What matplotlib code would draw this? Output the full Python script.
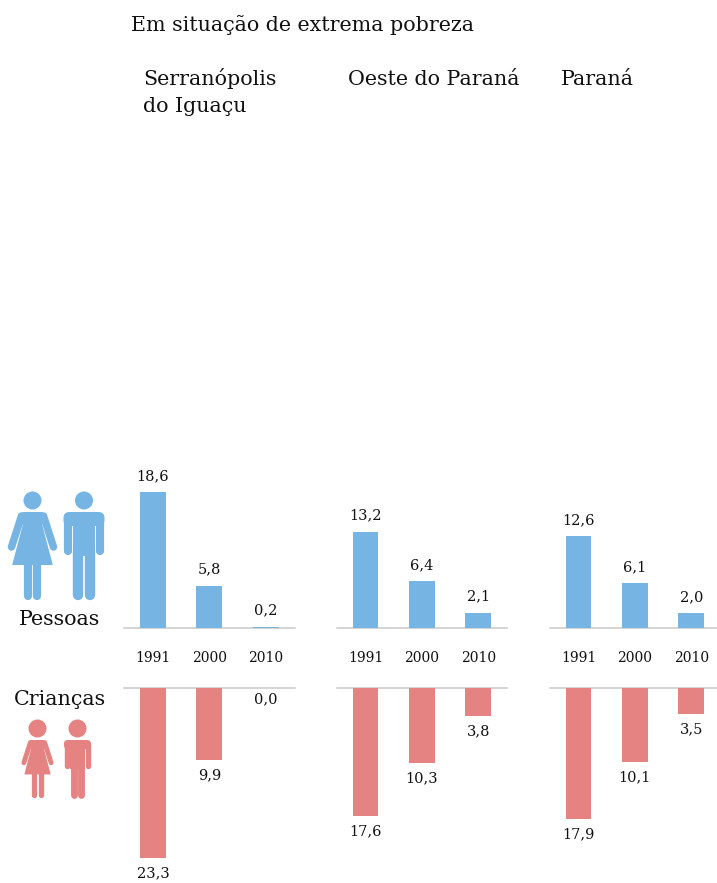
import numpy as np
from matplotlib import pyplot as plt
from matplotlib.patches import Circle, Polygon, FancyBboxPatch

W, H = 717, 883
BLUE = "#76b5e3"
RED = "#e58383"
LINE = "#c9c9c9"
FONT = "DejaVu Serif"

years = ["1991", "2000", "2010"]
regions = [["Serranópolis", "do Iguaçu"], ["Oeste do Paraná"], ["Paraná"]]
pessoas = [[18.6, 5.8, 0.2], [13.2, 6.4, 2.1], [12.6, 6.1, 2.0]]
criancas = [[23.3, 9.9, 0.0], [17.6, 10.3, 3.8], [17.9, 10.1, 3.5]]

col_left = [124, 336.5, 549.5]
region_x = [143, 348, 561]
col_w = 171
px_per_unit = 7.3


def px_axes(fig, left, top, right, bottom):
    return fig.add_axes([left / W, 1 - bottom / H, (right - left) / W, (bottom - top) / H])


def stroke(ax, pts, width, color):
    xs, ys = zip(*pts)
    ax.plot(xs, ys, color=color, lw=width * 0.72, solid_capstyle="round", zorder=3)


def woman(ax, cx, top, k, color):
    # top = top of the shoulders, k = size relative to the adult icon, head stays the same
    ax.add_patch(Circle((cx, top - 11.5), 9, color=color, lw=0))
    ax.add_patch(Polygon([(cx - 14 * k, top + 2 * k), (cx - 9 * k, top), (cx + 9 * k, top), (cx + 14 * k, top + 2 * k),
                          (cx + 9.8 * k, top + 13 * k), (cx + 20.3 * k, top + 53 * k),
                          (cx - 20.3 * k, top + 53 * k), (cx - 9.8 * k, top + 13 * k)],
                         closed=True, color=color, lw=0))
    leg = 8.2 * k
    for sign in (-1, 1):
        stroke(ax, [(cx + sign * 11 * k, top + 4 * k), (cx + sign * 21 * k, top + 35 * k)], 7.5 * k, color)
        x = cx + sign * (0.8 + leg / 2)
        stroke(ax, [(x, top + 50 * k), (x, top + 88 * k - leg / 2)], leg, color)


def man(ax, cx, top, k, color):
    ax.add_patch(Circle((cx, top - 11.5), 9, color=color, lw=0))
    half = 20.5 * k
    arm = 8.2 * k
    ax.add_patch(FancyBboxPatch((cx - half, top), 2 * half, 14 * k,
                                boxstyle=f"round,pad=0,rounding_size={6 * k}", color=color, lw=0))
    body = 11.2 * k
    ax.add_patch(Polygon([(cx - body, top + 8 * k), (cx + body, top + 8 * k),
                          (cx + body, top + 44 * k), (cx - body, top + 44 * k)],
                         closed=True, color=color, lw=0))
    leg = 10.4 * k
    for sign in (-1, 1):
        x = cx + sign * (half - arm / 2)
        stroke(ax, [(x, top + 8 * k), (x, top + 43 * k - arm / 2)], arm, color)
        x = cx + sign * (0.8 * k + leg / 2)
        stroke(ax, [(x, top + 40 * k), (x, top + 88 * k - leg / 2)], leg, color)


fig = plt.figure(figsize=(W / 100, H / 100), dpi=100)

for i in range(3):
    left = col_left[i]
    right = left + col_w
    x = np.arange(3)

    top_ax = px_axes(fig, left, 450, right, 628)
    top_ax.bar(x, pessoas[i], width=0.46, color=BLUE, zorder=3)
    top_ax.set_ylim(0, 178 / px_per_unit)

    low_ax = px_axes(fig, left, 688, right, 882)
    low_ax.bar(x, criancas[i], width=0.46, color=RED, zorder=3)
    low_ax.set_ylim(194 / px_per_unit, 0)

    for ax, vals, off in ((top_ax, pessoas[i], 11.5), (low_ax, criancas[i], -11)):
        ax.set_xlim(-0.515, 2.52)
        ax.set_yticks([])
        ax.patch.set_alpha(0)
        for side in ("top", "left", "right", "bottom"):
            ax.spines[side].set_visible(False)
        ax.axhline(0, color=LINE, lw=1.1, clip_on=False, zorder=1)
        for j, v in enumerate(vals):
            # the empty bar's label sits closer to the line
            y_off = -8 if v == 0 else off
            ax.annotate(f"{v:.1f}".replace(".", ","), (j, v), xytext=(0, y_off), textcoords="offset points",
                        ha="center", va="center", fontsize=10.5, family=FONT, color="#111111",
                        annotation_clip=False)

    top_ax.set_xticks(x, years)
    top_ax.tick_params(axis="x", length=0, pad=16.5, labelsize=10)
    for lab in top_ax.get_xticklabels():
        lab.set_family(FONT)
        lab.set_color("#111111")
    low_ax.set_xticks([])

# overlay in pixel coordinates for headings and the icons
over = fig.add_axes([0, 0, 1, 1])
over.set_xlim(0, W)
over.set_ylim(H, 0)
over.axis("off")
over.patch.set_alpha(0)

FS = 14.9
over.text(131, 31, "Em situação de extrema pobreza", fontsize=FS, family=FONT, va="baseline", color="#111111")
for rx, lines in zip(region_x, regions):
    for n, name in enumerate(lines):
        over.text(rx, 85 + 27 * n, name, fontsize=FS, family=FONT, va="baseline", color="#111111")
over.text(60, 625, "Pessoas", fontsize=FS, family=FONT, ha="center", va="baseline", color="#111111")
over.text(60, 705, "Crianças", fontsize=FS, family=FONT, ha="center", va="baseline", color="#111111")

woman(over, 32.5, 512, 1, BLUE)
man(over, 84, 512, 1, BLUE)
woman(over, 37.5, 740, 0.65, RED)
man(over, 77.5, 740, 0.66, RED)

fig.savefig("out.png", dpi=100)
